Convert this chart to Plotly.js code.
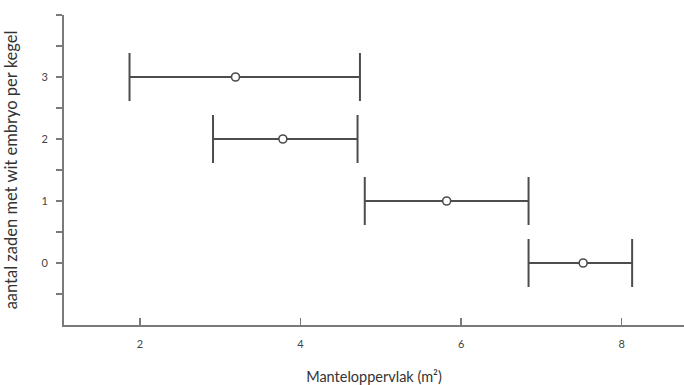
<!DOCTYPE html>
<html>
<head>
<meta charset="utf-8">
<script src="https://cdn.plot.ly/plotly-3.0.1.min.js"></script>
<style>html,body{margin:0;padding:0;background:#fff;}#chart{width:684px;height:385px;}</style>
</head>
<body>
<div id="chart"></div>
<script>
// Data
const seedCounts = [3, 2, 1, 0];              // aantal zaden met wit embryo per kegel
const meanArea   = [3.19, 3.78, 5.82, 7.52];  // mean mantle area (m²)
const lowerArea  = [1.87, 2.91, 4.80, 6.84];  // lower end of range
const upperArea  = [4.74, 4.71, 6.84, 8.13];  // upper end of range
const xTickVals  = [2, 4, 6, 8];
const yTickVals  = [0, 1, 2, 3];
const yTickText  = ['0', '1', '2', '3'];

const plus  = upperArea.map((u, i) => u - meanArea[i]);
const minus = meanArea.map((m, i) => m - lowerArea[i]);

const axisColor = '#7a7a7a';
const barColor = '#4d4d4d';
const font = 'Lato, "Open Sans", sans-serif';

const trace = {
  type: 'scatter',
  mode: 'markers',
  x: meanArea,
  y: seedCounts,
  marker: {symbol: 'circle', size: 8, color: '#ffffff', line: {color: barColor, width: 1.6}},
  error_x: {type: 'data', symmetric: false, array: plus, arrayminus: minus,
            color: barColor, thickness: 2, width: 24},
  hoverinfo: 'skip',
  cliponaxis: false
};

const layout = {
  width: 684, height: 385,
  margin: {l: 64, r: 0, t: 15, b: 60},
  paper_bgcolor: '#ffffff', plot_bgcolor: '#ffffff',
  showlegend: false,
  font: {family: font, color: '#333'},
  xaxis: {
    range: [1.054, 8.776],
    tickvals: xTickVals,
    ticks: 'inside', ticklen: 7, tickwidth: 1.5, tickcolor: axisColor,
    showline: true, linecolor: axisColor, linewidth: 2,
    showgrid: false, zeroline: false,
    tickfont: {size: 11, color: '#444', family: font},
    ticklabelstandoff: 8,
    automargin: false,
    title: {text: 'Manteloppervlak (m²)', font: {size: 14.5, color: '#333', family: font}, standoff: 24}
  },
  yaxis: {
    range: [-1, 4],
    tickvals: yTickVals, ticktext: yTickText,
    ticks: 'outside', ticklen: 6, tickwidth: 1.5, tickcolor: axisColor,
    minor: {tickvals: [-0.5, 0.5, 1.5, 2.5, 3.5, 4], ticks: 'outside', ticklen: 6, tickwidth: 1.5, tickcolor: axisColor},
    showline: true, linecolor: axisColor, linewidth: 2,
    showgrid: false, zeroline: false,
    tickfont: {size: 11, color: '#444', family: font},
    ticklabelstandoff: 6,
    automargin: false,
    title: {text: 'aantal zaden met wit embryo per kegel', font: {size: 16.5, color: '#333', family: font}, standoff: 20}
  }
};

Plotly.newPlot('chart', [trace], layout, {staticPlot: true, displayModeBar: false});
</script>
</body>
</html>
